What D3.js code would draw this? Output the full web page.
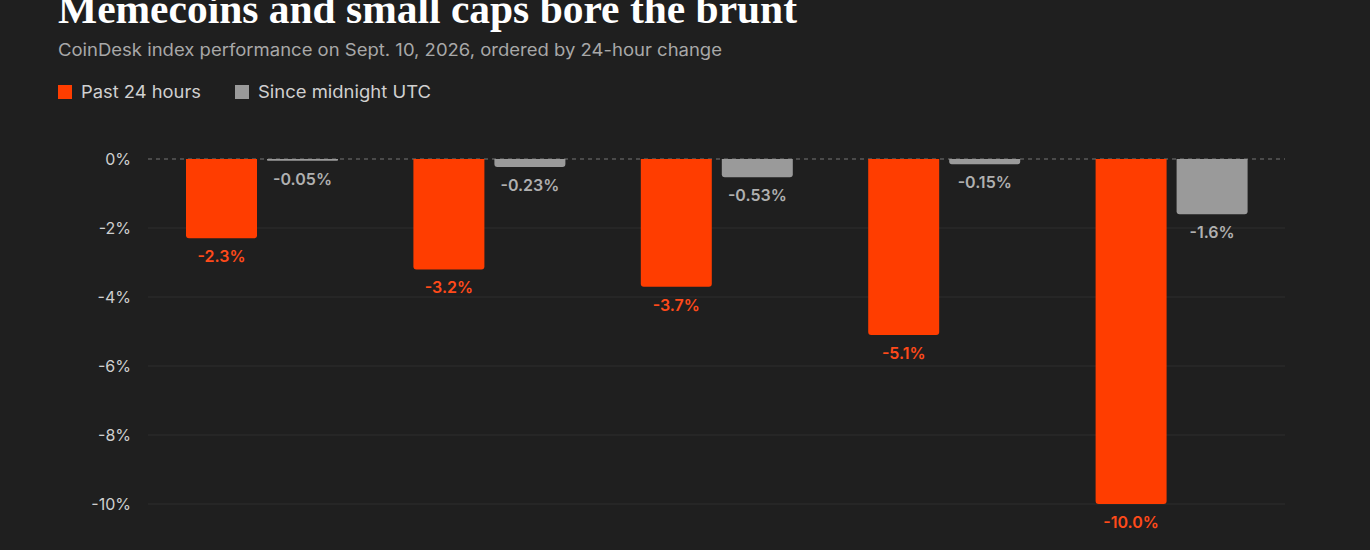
<!DOCTYPE html>
<html><head><meta charset="utf-8">
<script src="https://cdn.jsdelivr.net/npm/d3@7"></script>
<style>body{margin:0;background:#1f1f1f;}svg{display:block;}</style>
</head><body>
<script>
const categories = ["Index 1","Index 2","Index 3","Index 4","Index 5"];
const past24h = [-2.3,-3.2,-3.7,-5.1,-10.0];
const sinceMidnight = [-0.05,-0.23,-0.53,-0.15,-1.6];
const yTicks = [0,-2,-4,-6,-8,-10];
const labels24 = ["-2.3%","-3.2%","-3.7%","-5.1%","-10.0%"];
const labelsMid = ["-0.05%","-0.23%","-0.53%","-0.15%","-1.6%"];
const seriesNames = ["Past 24 hours","Since midnight UTC"];
const colors = ["#ff3d00","#9a9a9a"];

const W=1370,H=550;
const svg=d3.select("body").append("svg").attr("width",W).attr("height",H);
svg.append("rect").attr("width",W).attr("height",H).attr("fill","#1f1f1f");
const font="Inter, 'Noto Sans', sans-serif";
svg.append("text").attr("x",58).attr("y",23).attr("fill","#fff")
  .attr("font-family","'Liberation Serif', 'DejaVu Serif', serif").attr("font-weight","bold")
  .attr("font-size",41).attr("textLength",739).attr("lengthAdjust","spacingAndGlyphs")
  .text("Memecoins and small caps bore the brunt");
svg.append("text").attr("x",58).attr("y",56).attr("fill","#a8a8a8").attr("font-family",font)
  .attr("font-size",17).attr("textLength",664).attr("lengthAdjust","spacingAndGlyphs")
  .text("CoinDesk index performance on Sept. 10, 2026, ordered by 24-hour change");
const lg=svg.append("g").attr("font-family",font).attr("font-size",17).attr("fill","#d0d0d0");
const legX=[58,235], legTW=[120,173];
seriesNames.forEach((n,i)=>{
  lg.append("rect").attr("x",legX[i]).attr("y",85).attr("width",14).attr("height",14).attr("fill",colors[i]);
  lg.append("text").attr("x",legX[i]+23).attr("y",98).attr("textLength",legTW[i])
    .attr("lengthAdjust","spacingAndGlyphs").text(n);
});

const y=d3.scaleLinear().domain([0,-10]).range([159,504]);
const x0=d3.scaleBand().domain(categories).range([148,1285]).paddingInner(0).paddingOuter(0);
const x1=d3.scaleBand().domain([0,1]).range([38,38+152]).paddingInner(10/81);

const g=svg.append("g");
yTicks.forEach(t=>{
  g.append("line").attr("x1",148).attr("x2",1285).attr("y1",y(t)).attr("y2",y(t))
   .attr("stroke",t===0?"#777":"#2e2e2e").attr("stroke-width",1)
   .attr("stroke-dasharray",t===0?"4,4":null);
  g.append("text").attr("x",131).attr("y",y(t)+6).attr("text-anchor","end")
   .attr("fill","#cfcfcf").attr("font-family",font).attr("font-size",16).text(t+"%");
});

function barPath(x,w,y0,y1,r){
  const h=y1-y0; r=Math.min(r,h/2,w/2);
  return `M${x},${y0}H${x+w}V${y1-r}Q${x+w},${y1} ${x+w-r},${y1}H${x+r}Q${x},${y1} ${x},${y1-r}Z`;
}
[past24h,sinceMidnight].forEach((vals,si)=>{
  const labs=si===0?labels24:labelsMid;
  categories.forEach((c,i)=>{
    const bx=x0(c)+x1(si), bw=x1.bandwidth();
    g.append("path").attr("d",barPath(bx,bw,y(0),y(vals[i]),3)).attr("fill",colors[si]);
    g.append("text").attr("x",bx+bw/2).attr("y",y(vals[i])+24).attr("text-anchor","middle")
     .attr("fill",si===0?"#ff4a1a":"#b0b0b0").attr("font-family",font).attr("font-weight","600")
     .attr("font-size",16).text(labs[i]);
  });
});
</script>
</body></html>
